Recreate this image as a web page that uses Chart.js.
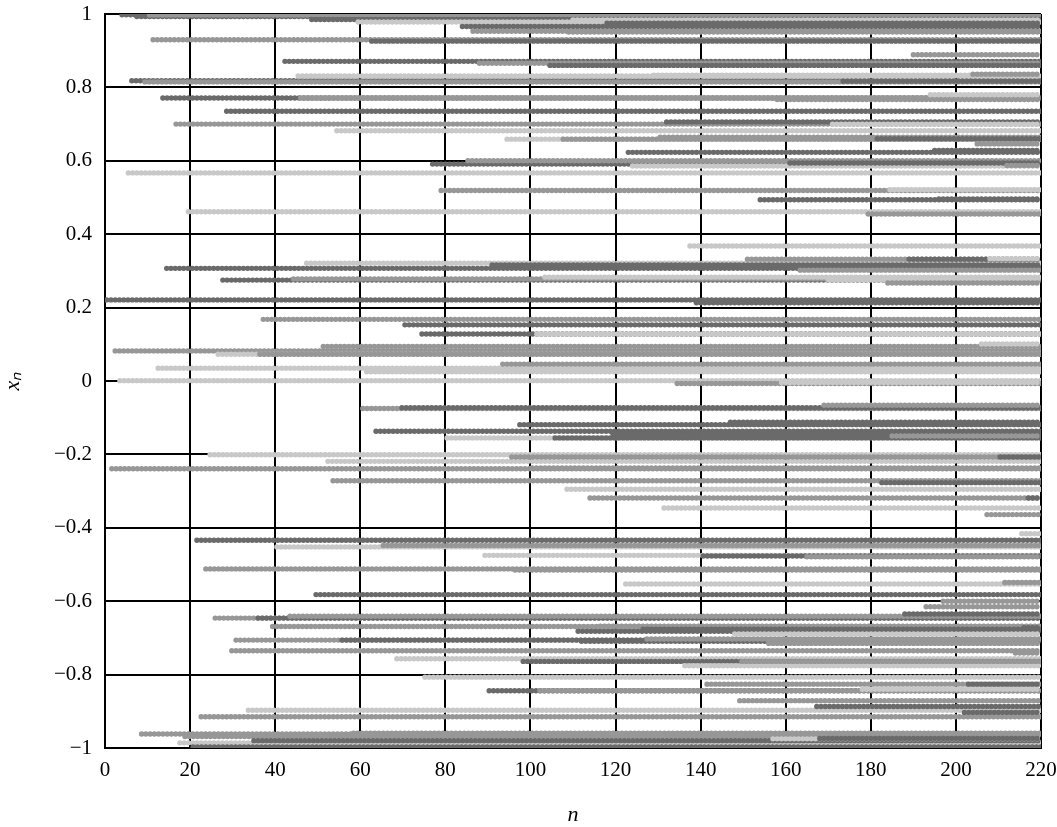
<!DOCTYPE html>
<html>
<head>
<meta charset="utf-8">
<script src="https://cdn.jsdelivr.net/npm/chart.js@4.4.0/dist/chart.umd.min.js"></script>
<style>
  html, body { margin: 0; padding: 0; background: #fff; }
  #wrap { width: 1057px; height: 827px; }
</style>
</head>
<body>
<div id="wrap"><canvas id="chart"></canvas></div>
<script>
// axis ticks
const nTicks = [0, 20, 40, 60, 80, 100, 120, 140, 160, 180, 200, 220];
const xTicks = [-1, -0.8, -0.6, -0.4, -0.2, 0, 0.2, 0.4, 0.6, 0.8, 1];
const nEnd = 220;

// each run: [first n, level x_n], it holds that level until n = 220
const darkRuns = [
  [4, 0.998], [7.5, 0.993], [48.6, 0.985], [118, 0.975], [84, 0.966], [62.7, 0.926],
  [42.3, 0.871], [104.6, 0.860], [6.3, 0.818], [173.5, 0.817], [13.6, 0.771], [28.6, 0.735],
  [132, 0.706], [181.5, 0.660], [123, 0.623], [195, 0.628], [77, 0.591], [161, 0.594],
  [154, 0.494], [196, 0.496], [91, 0.316], [189, 0.332], [14.5, 0.307], [27.7, 0.275],
  [0.4, 0.221], [139, 0.213], [70.5, 0.153], [74.5, 0.128], [69.8, -0.073], [97.5, -0.119],
  [147, -0.112], [63.7, -0.137], [119.4, -0.144], [105.8, -0.155], [210.4, -0.207], [182.6, -0.277],
  [217, -0.319], [21.6, -0.434], [140.6, -0.477], [49.6, -0.582], [188, -0.635], [36, -0.646],
  [126.5, -0.676], [111.2, -0.682], [216, -0.672], [55.7, -0.706], [112, -0.709], [98.3, -0.764],
  [203, -0.826], [90.3, -0.844], [167.3, -0.887], [202, -0.903], [35, -0.980], [20.7, -0.997],
  [168, -0.974]
];
const mediumRuns = [
  [10.5, 0.997], [86.5, 0.953], [109, 0.951], [11.3, 0.930], [190, 0.889], [88, 0.866],
  [204, 0.836], [9.4, 0.815], [46, 0.771], [158, 0.767], [16.7, 0.700], [107.7, 0.659],
  [130.5, 0.664], [205, 0.646], [85.3, 0.600], [212, 0.587], [79, 0.519], [179.4, 0.455],
  [151, 0.332], [163.4, 0.302], [44.3, 0.278], [184, 0.267], [37.2, 0.168], [51.3, 0.094],
  [2.4, 0.082], [36.4, 0.073], [93.5, 0.046], [134.5, -0.007], [60.6, -0.075], [169, -0.066],
  [185, -0.150], [95.6, -0.207], [1.6, -0.239], [100.4, -0.237], [53.6, -0.272], [114, -0.319],
  [207.3, -0.364], [65.4, -0.448], [165, -0.479], [23.7, -0.512], [96.4, -0.515], [211.5, -0.549],
  [197, -0.600], [193, -0.615], [25.9, -0.646], [43.5, -0.641], [39.4, -0.669], [116.4, -0.668],
  [30.8, -0.706], [127.4, -0.703], [156, -0.715], [29.8, -0.735], [214, -0.741], [149.7, -0.764],
  [141.5, -0.826], [102.2, -0.844], [149.2, -0.871], [22.6, -0.915], [8.6, -0.962], [58.4, -0.960],
  [18.8, -0.969]
];
const lightRuns = [
  [59.5, 0.978], [110, 0.984], [45.4, 0.831], [129, 0.833], [194, 0.780], [171, 0.700],
  [54.5, 0.682], [94.5, 0.659], [124, 0.586], [5.5, 0.567], [184.5, 0.521], [19.6, 0.461],
  [137.5, 0.368], [47.4, 0.321], [208, 0.333], [103.4, 0.283], [170, 0.276], [101.5, 0.128],
  [206, 0.101], [26.6, 0.073], [12.5, 0.035], [61.5, 0.025], [3.5, 0.001], [159, -0.004],
  [80.4, -0.155], [24.7, -0.201], [52.4, -0.219], [108.6, -0.295], [131.4, -0.346], [215.5, -0.416],
  [40.4, -0.452], [89.3, -0.475], [122.4, -0.553], [148, -0.689], [68.6, -0.757], [136.3, -0.776],
  [75.2, -0.807], [178, -0.840], [33.7, -0.897], [17.6, -0.986], [157, -0.975]
];

const shades = { dark: '#6a6a6a', medium: '#979797', light: '#c8c8c8' };
const serif = "'Liberation Serif', 'Times New Roman', serif";

const runs = [];
darkRuns.forEach(r => runs.push({ start: r[0], level: r[1], color: shades.dark }));
mediumRuns.forEach(r => runs.push({ start: r[0], level: r[1], color: shades.medium }));
lightRuns.forEach(r => runs.push({ start: r[0], level: r[1], color: shades.light }));
// later runs are painted over earlier ones; dataset 0 ends up on top
runs.sort((a, b) => b.start - a.start);

const datasets = runs.map(r => ({
  data: [{ x: r.start, y: r.level }, { x: nEnd, y: r.level }],
  borderColor: r.color,
  borderWidth: 5.4,
  borderCapStyle: 'round',
  borderDash: [0.01, 4.25],
  pointRadius: 0,
  tension: 0,
  fill: false
}));

function fmt(v) {
  const s = String(Math.round(Math.abs(v) * 10) / 10);
  return v < -1e-9 ? '\u2212' + s : s;
}

new Chart(document.getElementById('chart'), {
  type: 'line',
  data: { datasets: datasets },
  options: {
    responsive: true,
    maintainAspectRatio: false,
    animation: false,
    layout: { padding: { top: 14, right: 16, left: 0, bottom: 0 } },
    plugins: { legend: { display: false }, tooltip: { enabled: false } },
    scales: {
      x: {
        type: 'linear',
        min: 0,
        max: 220,
        afterBuildTicks: s => { s.ticks = nTicks.map(v => ({ value: v })); },
        afterFit: s => { s.height = 79; s.paddingLeft = 0; s.paddingRight = 0; },
        grid: { color: '#000', lineWidth: 2, drawTicks: false },
        border: { color: '#000', width: 2 },
        ticks: { color: '#000', padding: 10, maxRotation: 0, font: { family: serif, size: 21 } },
        title: {
          display: true, text: 'n', color: '#000',
          font: { family: serif, size: 22, style: 'italic', lineHeight: 1 },
          padding: { top: 0, bottom: 1 }
        }
      },
      y: {
        type: 'linear',
        min: -1,
        max: 1,
        afterBuildTicks: s => { s.ticks = xTicks.map(v => ({ value: v })); },
        afterFit: s => { s.width = 105; s.paddingTop = 0; s.paddingBottom = 0; },
        grid: { color: '#000', lineWidth: 2, drawTicks: false },
        border: { color: '#000', width: 2 },
        ticks: { color: '#000', padding: 13, callback: v => fmt(v), font: { family: serif, size: 21 } },
        title: {
          display: true, text: 'x\u2099', color: '#000',
          font: { family: serif, size: 22, style: 'italic', lineHeight: 1 },
          padding: { top: 2, bottom: 0 }
        }
      }
    }
  }
});
</script>
</body>
</html>
